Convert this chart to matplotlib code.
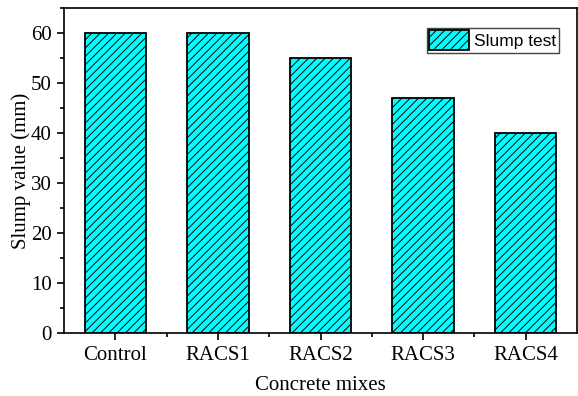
import matplotlib
matplotlib.use('Agg')
import matplotlib.pyplot as plt
import numpy as np
from matplotlib.ticker import MultipleLocator, FixedLocator

plt.rcParams['font.family'] = 'Liberation Serif'
plt.rcParams['font.size'] = 15
plt.rcParams['hatch.linewidth'] = 0.7

mixes = ['Control', 'RACS1', 'RACS2', 'RACS3', 'RACS4']
slump = [60, 60, 55, 47, 40]

fig = plt.figure(figsize=(5.78, 3.96), dpi=100)
ax = fig.add_axes([64 / 578, 63 / 396, 513 / 578, 325 / 396])

x = np.arange(len(mixes))
ax.bar(x, slump, width=0.6, color='#00FFFF', edgecolor='black',
       linewidth=1.3, hatch='////', label='Slump test')

ax.set_xlim(-0.5, 4.5)
ax.set_ylim(0, 65)
ax.set_xticks(x)
ax.set_xticklabels(mixes)
ax.xaxis.set_minor_locator(FixedLocator(x[:-1] + 0.5))
ax.yaxis.set_major_locator(MultipleLocator(10))
ax.yaxis.set_minor_locator(MultipleLocator(5))
ax.tick_params(which='major', direction='out', length=5, width=1.2, pad=4)
ax.tick_params(which='minor', direction='out', length=3, width=1.2)
for s in ax.spines.values():
    s.set_linewidth(1.2)

ax.set_xlabel('Concrete mixes', labelpad=8)
ax.set_ylabel('Slump value (mm)', labelpad=0)

leg = ax.legend(loc='upper right', bbox_to_anchor=(0.965, 0.94),
                prop={'family': 'Liberation Sans', 'size': 12.5},
                fancybox=False, edgecolor='#444444', framealpha=1,
                borderpad=0.15, handlelength=2.3, handleheight=1.4,
                handletextpad=0.3, borderaxespad=0)
leg.get_frame().set_linewidth(1.0)

fig.savefig('out.png', dpi=100)
